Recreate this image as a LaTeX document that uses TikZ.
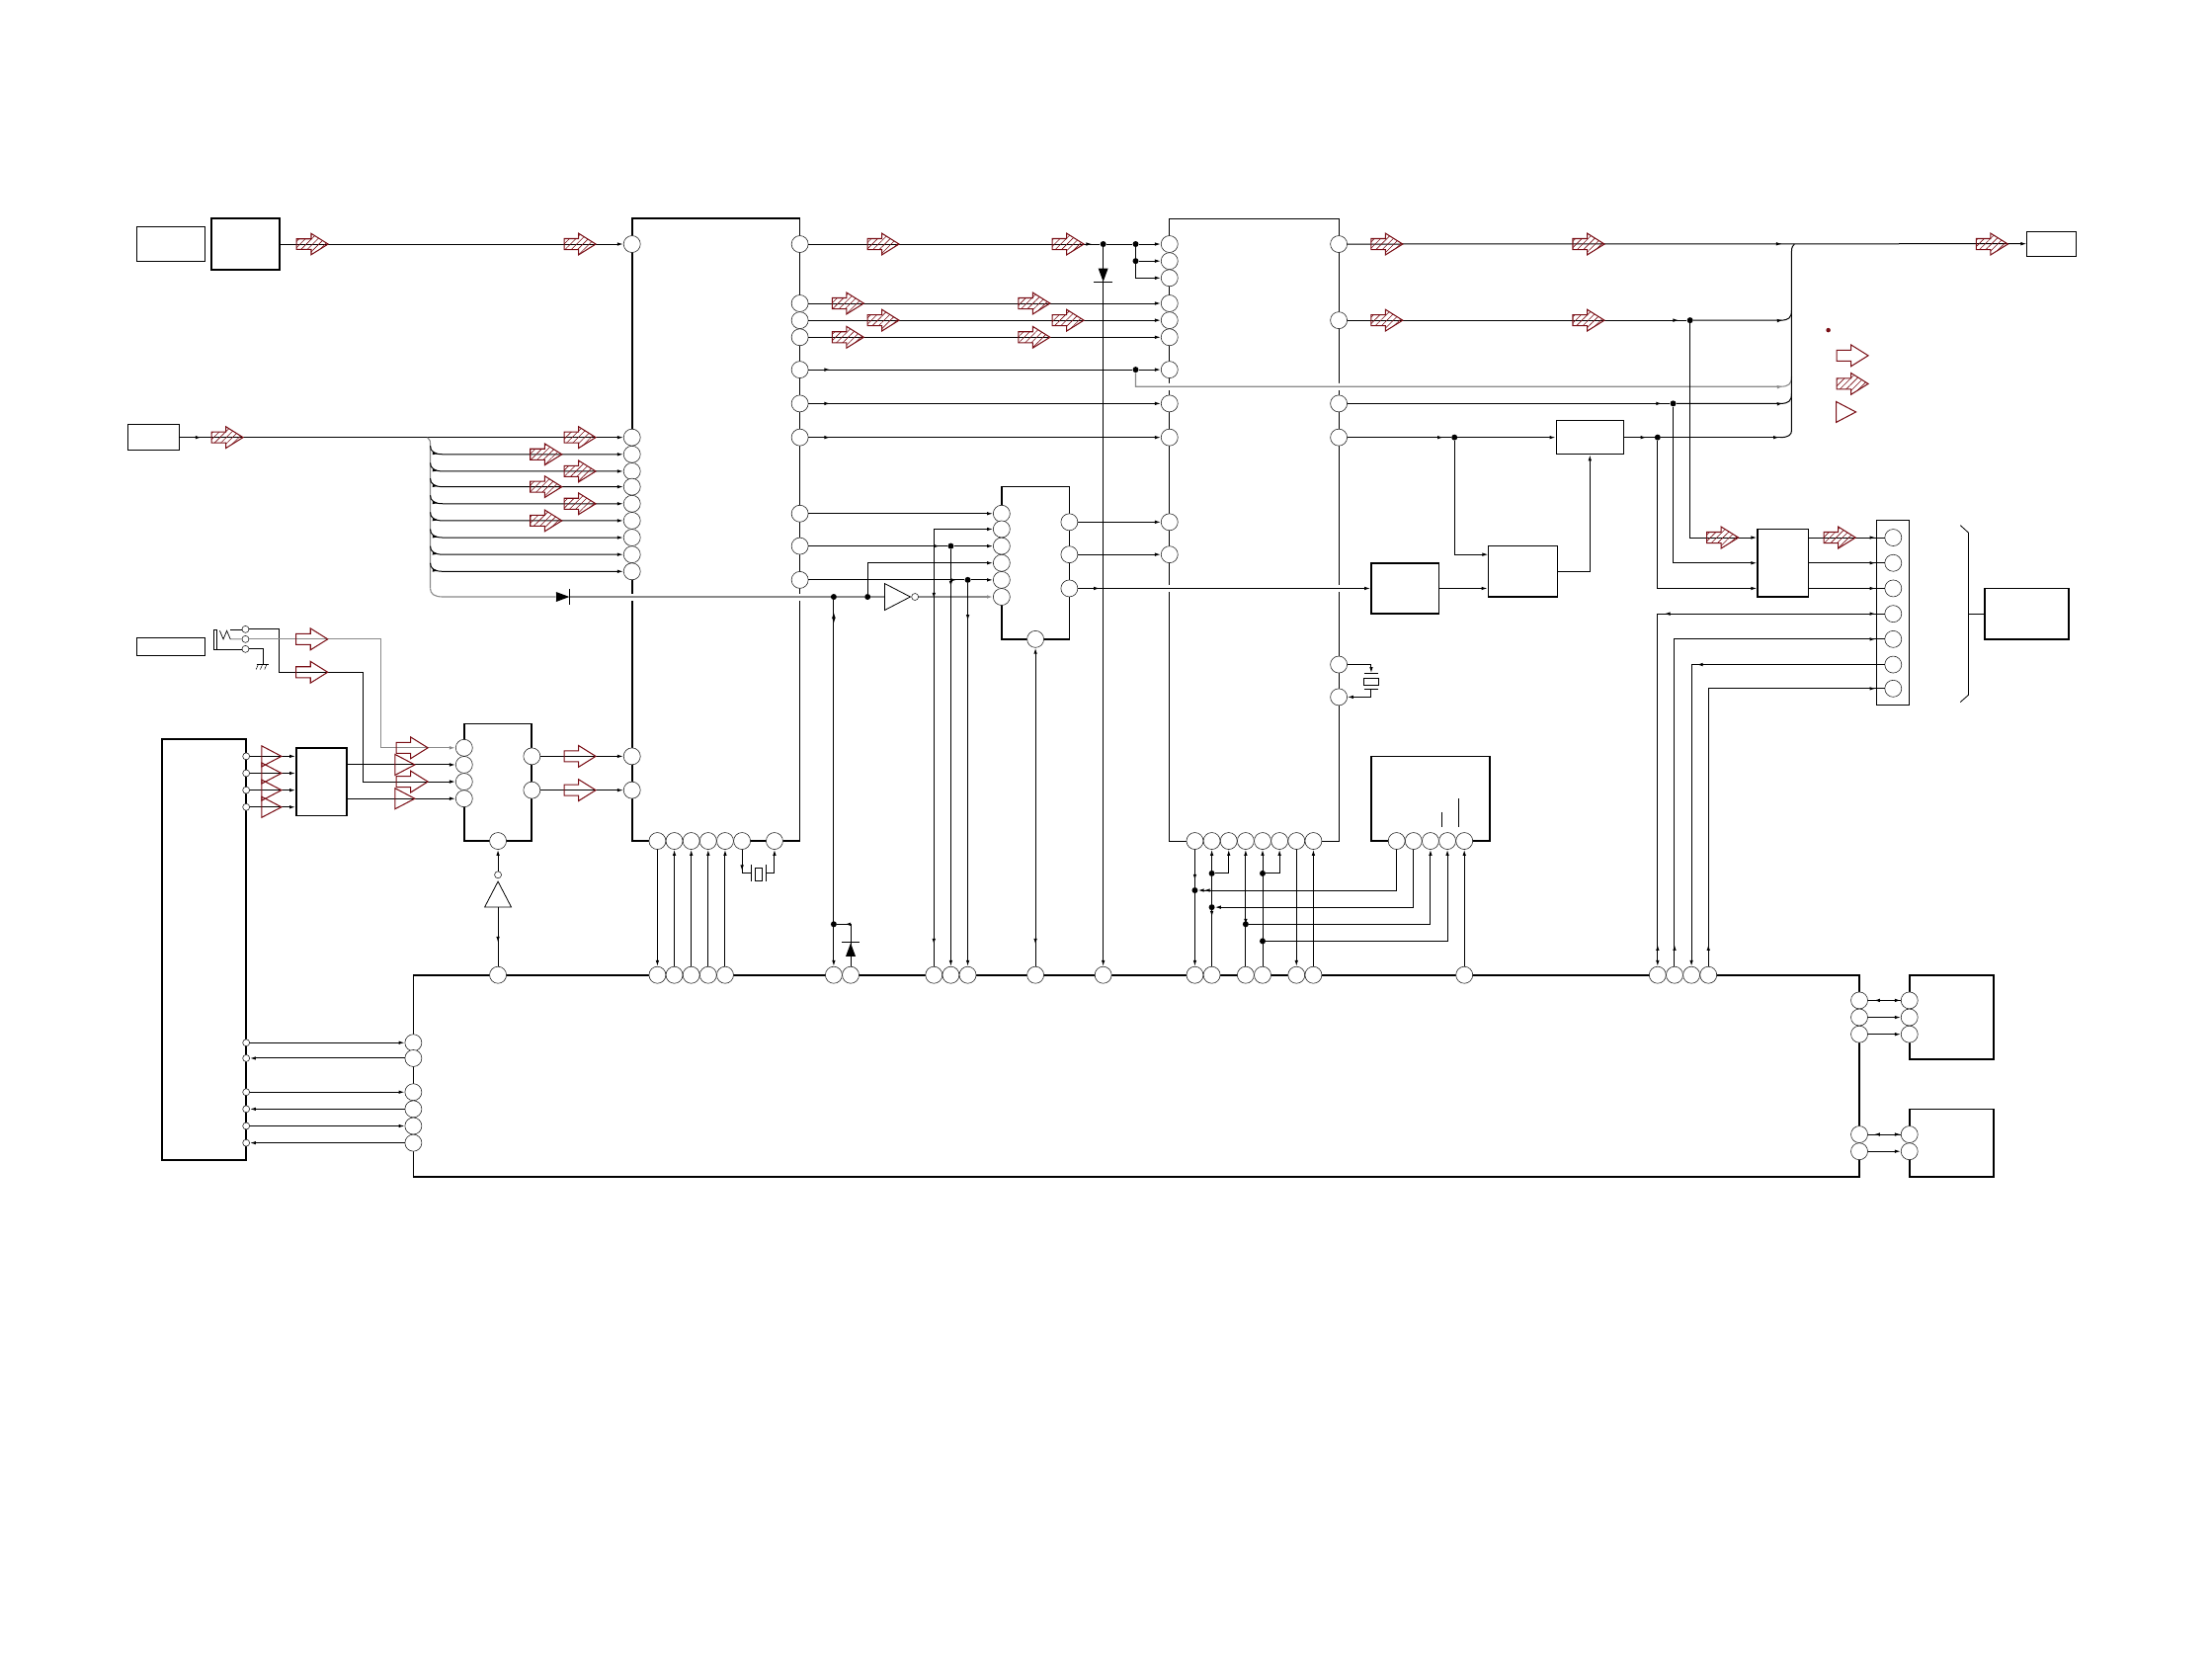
\documentclass[tikz,border=0pt]{standalone}
\usepackage{xcolor}
\usepackage{tikz}
\usetikzlibrary{arrows.meta, positioning, fit, patterns.meta, shapes.arrows, shapes.geometric, decorations.markings}
\definecolor{sigred}{HTML}{7A0F16}
\definecolor{fainty}{HTML}{8A8A8A}

\begin{document}
\begin{tikzpicture}[
  x=1.428pt, y=-1.428pt,
  box/.style={draw=black, line width=1.7pt, inner sep=0pt},
  thinbox/.style={draw=black, line width=1pt, inner sep=0pt},
  pin/.style={circle, draw=black!85, line width=.6pt, fill=white, minimum size=17pt, inner sep=0pt},
  smallpin/.style={circle, draw=black!85, line width=.6pt, fill=white, minimum size=7pt, inner sep=0pt},
  dot/.style={circle, fill=black, minimum size=6pt, inner sep=0pt},
  wire/.style={draw=black, line width=1pt},
  pale/.style={draw=fainty, line width=1.1pt},
  arr/.style={-{Latex[length=6pt,width=3.5pt]}},
  tipat/.style={postaction={decorate, decoration={markings, mark=at position #1 with {\arrow{Latex[length=6pt,width=3.5pt]}}}}},
  tipback/.style={postaction={decorate, decoration={markings, mark=at position #1 with {\arrowreversed{Latex[length=6pt,width=3.5pt]}}}}},
  halo/.style={preaction={draw=white, line width=7pt}},
  openarrow/.style={single arrow, anchor=tip, draw=sigred, line width=1.05pt, text height=10pt, text depth=0pt, text width=0pt, minimum height=32pt, single arrow head extend=5.4pt, single arrow tip angle=64, inner sep=0pt},
  hatcharrow/.style={openarrow, pattern={Lines[angle=45, distance=4.5pt, line width=.6pt]}, pattern color=sigred},
  redtri/.style={isosceles triangle, isosceles triangle stretches, anchor=apex, draw=sigred, line width=1.05pt, minimum width=21pt, minimum height=20pt, inner sep=0pt},
  gate/.style={isosceles triangle, isosceles triangle stretches, anchor=apex, draw=black, line width=.8pt, minimum width=27pt, minimum height=26pt, inner sep=0pt},
  diodetri/.style={isosceles triangle, isosceles triangle stretches, anchor=apex, fill=black, minimum width=10pt, minimum height=13.5pt, inner sep=0pt}
]
  \useasboundingbox (0,0) rectangle (1568,1179);

  \node[thinbox, fit={(97,161) (145,185)}] (tag) {};
  \node[box, fit={(150,155) (198,191)}] (ant) {};
  \node[thinbox, fit={(90.5,301) (127,319)}] (mic) {};
  \node[thinbox, fit={(97,452) (145,465)}] (jacktag) {};
  \node[box, fit={(448,155) (567,596)}] (ua) {};
  \node[thinbox, fit={(829,155) (949,596)}] (ub) {};
  \node[box, fit={(710,345) (758,453)}] (uc) {};
  \node[box, fit={(329,513) (377,596)}] (mx) {};
  \node[box, fit={(115,524) (174.5,822)}] (panel) {};
  \node[box, fit={(210,530) (246,578)}] (sw) {};
  \node[box, fit={(293,691) (1318,834)}] (main) {};
  \draw[white, line width=2.2pt] (main.north east) -- (main.south east);
  \draw[line width=.9pt] (main.north east) -- (main.south east);
  \node[box, fit={(972,399) (1020,435)}] (conv) {};
  \node[box, fit={(1055,387) (1104,423)}] (dac) {};
  \node[thinbox, fit={(1103,298) (1151,322)}] (amp) {};
  \node[box, fit={(1246,375) (1282,423)}] (filt) {};
  \node[thinbox, fit={(1330,369) (1353,500)}] (strip) {};
  \node[box, fit={(1407,417) (1466.5,453)}] (dock) {};
  \node[thinbox, fit={(1437,164) (1472,181.5)}] (out) {};
  \node[box, fit={(972,536) (1056,596)}] (ud) {};
  \node[box, fit={(1353.5,691) (1413,750.5)}] (ra) {};
  \node[box, fit={(1353.5,786) (1413,834)}] (rb) {};

  \foreach \y in {173,310,322,334,345,357,369,381,393,405,536,560} \node[pin] (al\y) at (448,\y) {};
  \foreach \y in {173,215,227,239,262,286,310,364,387,411} \node[pin] (ar\y) at (567,\y) {};
  \foreach \x in {466,478,490,502,514,526,549} \node[pin] (ab\x) at (\x,596) {};
  \foreach \y in {173,185,197,215,227,239,262,286,310,370,393} \node[pin] (bl\y) at (829,\y) {};
  \foreach \y in {173,227,286,310,471,494} \node[pin] (br\y) at (949,\y) {};
  \foreach \x in {847,859,871,883,895,907,919,931} \node[pin] (bb\x) at (\x,596) {};
  \foreach \y in {364,375,387,399,411,423} \node[pin] (cl\y) at (710,\y) {};
  \foreach \y in {370,393,417} \node[pin] (cr\y) at (758,\y) {};
  \node[pin] (cb) at (734,453) {};
  \foreach \y in {530,542,554,566} \node[pin] (xl\y) at (329,\y) {};
  \foreach \y in {536,560} \node[pin] (xr\y) at (377,\y) {};
  \node[pin] (xb) at (353,596) {};
  \foreach \x in {990,1002,1014,1026,1038} \node[pin] (db\x) at (\x,596) {};
  \foreach \y in {381,399,417,435,453,471,488} \node[pin] (st\y) at (1342,\y) {};
  \foreach \x in {353,466,478,490,502,514,591,603,662,674,686,734,782,847,859,883,895,919,931,1038,1175,1187,1199,1211} \node[pin] (mt\x) at (\x,691) {};
  \foreach \y in {739,750,774,786,798,810} \node[pin] (ml\y) at (293,\y) {};
  \foreach \y in {709,721,733,804,816} \node[pin] (mr\y) at (1318,\y) {};
  \foreach \y in {709,721,733} \node[pin] (rp\y) at (1353.5,\y) {};
  \foreach \y in {804,816} \node[pin] (rq\y) at (1353.5,\y) {};
  \foreach \y in {536,548,560,572,739,750,774,786,798,810} \node[smallpin] (pp\y) at (174.5,\y) {};
  \foreach \y in {446,453,460} \node[smallpin] (jk\y) at (174,\y) {};

  \node[dot] (j173a) at (782,173) {};
  \node[dot] (j173b) at (805,173) {};
  \node[dot] (j185) at (805,185) {};
  \node[dot] (j262) at (805,262) {};
  \node[dot] (j387) at (674,387) {};
  \node[dot] (j411) at (686,411) {};
  \node[dot] (j423a) at (591,423) {};
  \node[dot] (j423b) at (615,423) {};
  \node[dot] (j655) at (591,655) {};
  \node[dot] (j227) at (1198,227) {};
  \node[dot] (j286) at (1186,286) {};
  \node[dot] (j310a) at (1031,310) {};
  \node[dot] (j310b) at (1175,310) {};
  \node[dot] (j631) at (847,631) {};
  \node[dot] (j619a) at (859,619) {};
  \node[dot] (j643) at (859,643) {};
  \node[dot] (j655b) at (883,655) {};
  \node[dot] (j619b) at (895,619) {};
  \node[dot] (j667) at (895,667) {};

  \coordinate (dacin) at (1055,393);
  \coordinate (rbus) at (1272,173);

  \node[diodetri] (dleft) at (404,423) {};
  \node[diodetri, shape border rotate=-90] (dtop) at (782,200) {};
  \node[diodetri, shape border rotate=90] (dlow) at (603,668) {};
  \node[gate] (inva) at (646,423) {};
  \node[smallpin] (bubblea) at (648.6,423) {};
  \node[gate, shape border rotate=90] (invb) at (353,624) {};
  \node[smallpin] (bubbleb) at (353,620) {};

  % lines across the chip sides first
  \draw[pale, halo] (305,417) .. controls (305,421) and (308,423) .. (314,423) -- (dleft);
  \draw[pale, halo] (dleft) -- (j423a);
  \draw[pale] (j423a) -- (j423b);
  \draw[pale, halo] (j423b) -- (inva.lower side);
  \draw[pale, arr] (bubblea) -- (cl423);
  \draw[wire, halo, arr, tipat=22pt] (cr417) -- (conv);
  \draw[pale, halo, tipat=-15pt] (j262) |- (1262,274) .. controls (1268,274) and (1270,272) .. (1270,267);

  \draw[wire, arr] (ant) -- (al173);
  \draw[wire, arr, tipat=22pt] (mic) -- (al310);
  \draw[pale] (303,310) .. controls (305,311) and (305,313) .. (305,316) -- (305,417);
  \foreach \y in {322,334,345,357,369,381,393,405}
    \draw[wire, arr, tipat=13pt] (305,\y-6) .. controls (305,\y-2) and (308,\y) .. (314,\y) -- (al\y);

  \draw[wire, tipat=-8pt] (ar173) -- (j173a);
  \draw[wire] (j173a) -- (j173b);
  \draw[wire, arr] (j173b) -- (bl173);
  \draw[wire, arr] (j185) -- (bl185);
  \draw[wire, arr] (j173b) |- (bl197);
  \foreach \y in {215,227,239} \draw[wire, arr] (ar\y) -- (bl\y);
  \draw[wire, tipat=22pt] (ar262) -- (j262);
  \draw[wire, arr] (j262) -- (bl262);
  \draw[wire, arr, tipat=22pt] (ar286) -- (bl286);
  \draw[wire, arr, tipat=22pt] (ar310) -- (bl310);
  \draw[wire, arr] (j173a) -- (mt782);

  \draw[wire, arr] (ar364) -- (cl364);
  \draw[wire, tipat=-8pt] (ar387) -- (j387);
  \draw[wire, arr] (j387) -- (cl387);
  \draw[wire, tipat=-8pt] (ar411) -- (j411);
  \draw[wire, arr] (j411) -- (cl411);
  \draw[wire, arr, tipback=22pt, tipback=372pt] (mt662) |- (cl375);
  \draw[wire, arr, tipat=38pt] (j387) -- (mt674);
  \draw[wire, arr, tipat=38pt] (j411) -- (mt686);
  \draw[wire, arr] (j423b) |- (cl399);
  \draw[wire, arr, tipback=12pt, tipat=24pt] (j423a) -- (mt591);
  \draw[wire, tipat=-8pt] (mt603) |- (j655);
  \draw[line width=.9pt] (596.5,668) -- (609.5,668);
  \draw[line width=.9pt] (404,417.5) -- (404,428.5);
  \draw[line width=.9pt] (775.5,200) -- (788.5,200);
  \draw[wire, arr, tipback=22pt] (mt734) -- (cb);
  \draw[wire, arr] (cr370) -- (bl370);
  \draw[wire, arr] (cr393) -- (bl393);

  \draw[wire, arr, tipat=440pt] (br173) -- (out);
  \draw[wire] (rbus) .. controls (1271,174) and (1270,175) .. (1270,178) -- (1270,305) .. controls (1270,308) and (1268,310) .. (1262,310);
  \draw[wire, tipat=-8pt] (br227) -- (j227);
  \draw[wire, tipat=-15pt] (j227) -- (1262,227) .. controls (1268,227) and (1270,225) .. (1270,220);
  \draw[wire, tipat=-8pt] (br286) -- (j286);
  \draw[wire, tipat=-15pt] (j286) -- (1262,286) .. controls (1268,286) and (1270,284) .. (1270,279);
  \draw[wire, tipat=-8pt] (br310) -- (j310a);
  \draw[wire, arr] (j310a) -- (amp);
  \draw[wire, tipat=-8pt] (amp) -- (j310b);
  \draw[wire, tipat=-1pt] (j310b) -- (1262,310);
  \draw[wire, arr] (j310a) |- (dacin);
  \draw[wire, arr] (conv) -- (conv-|dac.west);
  \draw[wire, arr] (dac.east) -| (amp.south);
  \draw[wire, arr] (j227) |- (st381-|filt.west);
  \draw[wire, arr] (j286) |- (st399-|filt.west);
  \draw[wire, arr] (j310b) |- (st417-|filt.west);
  \foreach \y in {381,399,417} \draw[wire, tipat=-9pt] (st\y-|filt.east) -- (st\y);
  \draw[wire, arr, tipback=9pt, tipat=223pt, tipback=-22pt] (st435) -| (mt1175);
  \draw[wire, tipback=9pt, tipback=-22pt] (st453) -| (mt1187);
  \draw[wire, arr, tipat=190pt] (st471) -| (mt1199);
  \draw[wire, tipback=9pt, tipback=-22pt] (st488) -| (mt1211);
  \draw[wire] (1395.4,435) -- (dock);
  \draw[line width=.8pt] (1389.6,372.3) -- (1395.4,377.6) -- (1395.4,492.5) -- (1389.6,497.6);

  \node[draw=black, line width=.8pt, fit={(967,480.5) (977,485.5)}, inner sep=0pt] (xtalb) {};
  \draw[wire, arr] (br471) -| (972,477);
  \draw[wire, arr] (972,489) |- (br494);
  \draw[line width=.8pt] (967,477.5) -- (977,477.5);
  \draw[line width=.8pt] (967,488.5) -- (977,488.5);

  \node[draw=black, line width=.8pt, fit={(535,615) (540,624)}, inner sep=0pt] (xtala) {};
  \coordinate (xaa) at (532,619);
  \coordinate (xab) at (543.5,619);
  \draw[wire, tipat=-11pt] (ab526) |- (xaa);
  \draw[wire, arr] (xab) -| (ab549);
  \draw[line width=.8pt] (532.5,613) -- (532.5,625);
  \draw[line width=.8pt] (543,613) -- (543,625);

  \draw[wire, arr] (ab466) -- (mt466);
  \foreach \x in {478,490,502,514} \draw[wire, arr] (mt\x) -- (ab\x);

  \draw[wire, arr, tipat=31pt] (bb847) -- (mt847);
  \draw[wire, arr, tipat=-6pt] (db990) |- (j631);
  \draw[wire, arr, tipback=50pt] (mt859) -- (bb859);
  \draw[wire, arr] (db1002) |- (j643);
  \draw[wire, arr] (j619a) -| (bb871);
  \draw[wire, arr, tipback=42pt] (mt883) -- (bb883);
  \draw[wire, arr] (j655b) -| (db1014);
  \draw[wire, arr, tipback=22pt] (mt895) -- (bb895);
  \draw[wire, arr] (j667) -| (db1026);
  \draw[wire, arr] (j619b) -| (bb907);
  \draw[wire, arr] (bb919) -- (mt919);
  \draw[wire, arr] (mt931) -- (bb931);
  \draw[wire, arr] (mt1038) -- (db1038);
  \draw[line width=.7pt] (1022,575.5) -- (1022,586);
  \draw[line width=.7pt] (1034,566) -- (1034,586);

  \draw[wire, tipback=24pt] (mt353) -- (invb.lower side);
  \draw[wire, arr] (bubbleb) -- (xb);

  \foreach \y in {536,548,560,572} \draw[wire, arr] (pp\y) -- (pp\y-|sw.west);
  \draw[wire, arr] (sw.east|-xl542) -- (xl542);
  \draw[wire, arr] (sw.east|-xl566) -- (xl566);
  \draw[wire, arr] (xr536) -- (al536);
  \draw[wire, arr] (xr560) -- (al560);
  \draw[wire, arr] (pp739) -- (ml739);
  \draw[wire, arr] (ml750) -- (pp750);
  \draw[wire, arr] (pp774) -- (ml774);
  \draw[wire, arr] (ml786) -- (pp786);
  \draw[wire, arr] (pp798) -- (ml798);
  \draw[wire, arr] (ml810) -- (pp810);

  \draw[wire, arr] (jk446) -| (198,476.4) -| (257.7,554) -- (xl554);
  \draw[pale, arr] (jk453) -| (269.7,530) -- (xl530);
  \draw[wire] (jk460) -| (186.8,471);
  \draw[wire] (182,471) -- (190.6,471);
  \foreach \s in {183,186,189} \draw[line width=.5pt] (\s,471) -- (\s-1.5,474.5);
  \draw[line width=.7pt] (151.6,446) rectangle (153.5,460);
  \draw[line width=.7pt] (153.5,460) -- (jk460);
  \draw[line width=.7pt] (155.8,447) -- (158.3,453) -- (160.8,447) -- (163.3,453) -- (jk453);
  \draw[line width=.7pt] (163,446) -- (jk446);

  \foreach \a in {709,721,733} \draw[wire, arr] (mr\a) -- (rp\a);
  \draw[wire, tipback=6pt] (mr709) -- (rp709);
  \foreach \a in {804,816} \draw[wire, arr] (mr\a) -- (rq\a);
  \draw[wire, tipback=6pt] (mr804) -- (rq804);

  \foreach \x/\y in {233/173,423/173,173/310,423/310,399/322,423/334,399/345,423/357,399/369,
      638/173,769/173,613/215,745/215,638/227,769/227,613/239,745/239,
      995/173,1138/173,1424/173,995/227,1138/227,1233/381,1316/381,1325/272}
    \node[hatcharrow] (hat\x-\y) at (\x,\y) {};
  \foreach \x/\y in {233/453,233/476.4,304/530,304/554,423/536,423/560,1325/252}
    \node[openarrow] (open\x-\y) at (\x,\y) {};
  \foreach \y in {536,548,560,572} \node[redtri] (tria\y) at (200.5,\y) {};
  \foreach \y in {542,566} \node[redtri] (trib\y) at (295,\y) {};
  \node[redtri] (trilegend) at (1316.5,292) {};
  \node[circle, fill=sigred, minimum size=4.5pt, inner sep=0pt] (reddot) at (1296,234) {};
\end{tikzpicture}
\end{document}
